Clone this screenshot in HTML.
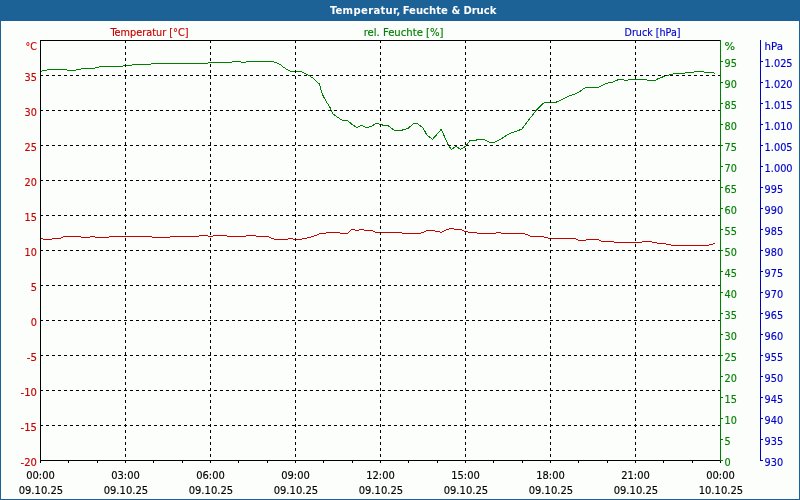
<!DOCTYPE html>
<html lang="de"><head><meta charset="utf-8"><title>Temperatur, Feuchte &amp; Druck</title>
<style>
html,body{margin:0;padding:0;background:#fcfefc;overflow:hidden}
svg{display:block}
.tx{will-change:opacity}
text{font-family:"DejaVu Sans Condensed","Liberation Sans",sans-serif;font-size:10.5px}
.t{font-family:"DejaVu Sans Condensed","Liberation Sans",sans-serif;font-weight:bold;font-size:11.2px;fill:#fff}
.r{fill:#c80000;stroke:#c80000}.g{fill:#008000;stroke:#008000}.b{fill:#0000c8;stroke:#0000c8}.k{fill:#000;stroke:#000}
text{stroke-width:0.15px;stroke-linejoin:round}
.e{text-anchor:end}.m{text-anchor:middle}
</style></head><body>
<svg width="800" height="500" viewBox="0 0 800 500">
<rect x="0" y="0" width="800" height="500" fill="#1d6296"/>
<rect x="1" y="21" width="798" height="478" fill="#fcfefc"/>
<path d="M40 71.5H42M42 70.5H47M47 69.5H67M67 70.5H76M76 69.5H81M81 68.5H95M95 67.5H99M99 66.5H123M123 65.5H132M132 64.5H151M151 63.5H208M208 62.5H232M232 61.5H241M241 62.5H246M246 61.5H274M274 62.5H277M277 63.5H279M279 64.5H281M281 65.5H282M282 66.5H283M283 67.5H285M285 68.5H286M286 69.5H288M288 70.5H290M290 71.5H302M302 72.5H304M304 73.5H306M306 74.5H308M308 75.5H310M310 76.5H311M311 77.5H313M313 78.5H314M314 79.5H315M315 80.5H316M316 81.5H317M317 82.5H318M318 83.5H319" fill="none" stroke="#008000" stroke-width="1" shape-rendering="crispEdges"/>
<polyline points="319.0,83.5 319.4,84.0 320.6,88.7 323.0,95.6 326.9,102.5 330.0,107.5 331.2,110.6 333.0,114.0 338.7,118.0 342.5,120.4 347.5,120.4 351.9,124.4 356.9,127.5 361.2,125.2 366.2,127.5 371.2,126.5 376.2,123.4 380.6,124.4 383.7,125.4 388.0,125.6 394.4,130.4 401.2,130.4 408.0,128.4 413.7,123.4 417.5,123.7 423.0,128.0 426.9,135.0 432.5,139.4 441.2,129.4 448.0,144.4 451.2,149.4 456.2,146.5 460.6,149.4 465.6,146.3 470.0,140.4 475.6,140.4 478.0,139.4 483.7,139.4 490.0,142.5 494.4,142.5 502.5,138.0 506.9,135.0 511.9,132.5 516.2,131.5 521.9,129.0 528.7,120.0 536.2,110.4 543.0,103.4 546.2,102.4 555.6,102.4 562.5,99.4 568.7,96.2 578.7,92.5 583.7,88.4 586.9,87.4 598.0,87.4 606.2,83.4 612.5,82.2 616.2,80.4 619.4,79.4 623.0,79.4 625.0,80.4 627.5,80.4 628.7,79.4 646.2,79.4 647.5,80.4 655.6,80.4 657.5,79.0 666.2,75.6 675.6,73.4 684.4,73.4 685.6,72.4 693.7,72.4 695.0,71.4 703.0,71.4 704.4,72.4 713.0,72.4 715.0,73.4" fill="none" stroke="#008000" stroke-width="1" shape-rendering="crispEdges"/>
<path d="M40 238.5H43M43 239.5H52M52 238.5H61M61 237.5H63M63 236.5H81M81 237.5H90M90 236.5H95M95 237.5H109M109 236.5H152M152 237.5H170M170 236.5H199M199 235.5H208M208 236.5H213M213 235.5H227M227 236.5H246M246 235.5H256M256 236.5H269M269 237.5H271M271 238.5H274M274 239.5H288M288 238.5H293M293 239.5H302M302 238.5H307M307 237.5H311M311 236.5H314M314 235.5H317M317 234.5H319M319 233.5H326M326 232.5H340M340 233.5H348M348 232.5H349M349 231.5H350M350 230.5H351M351 229.5H355M355 230.5H359M359 229.5H364M364 230.5H373M373 231.5H375M375 232.5H402M402 233.5H421M421 232.5H424M424 231.5H426M426 230.5H435M435 231.5H440M440 232.5H442M442 231.5H444M444 230.5H446M446 229.5H449M449 228.5H454M454 229.5H462M462 230.5H464M464 231.5H468M468 232.5H477M477 233.5H496M496 232.5H501M501 233.5H525M525 234.5H528M528 235.5H530M530 236.5H544M544 237.5H548M548 238.5H576M576 239.5H578M578 240.5H586M586 239.5H599M599 240.5H601M601 241.5H614M614 242.5H642M642 241.5H652M652 242.5H657M657 243.5H666M666 244.5H671M671 245.5H709M709 244.5H713M713 243.5H715" fill="none" stroke="#c80000" stroke-width="1" shape-rendering="crispEdges"/>
<path d="M40 425.5H720M40 390.5H720M40 355.5H720M40 320.5H720M40 285.5H720M40 250.5H720M40 215.5H720M40 180.5H720M40 145.5H720M40 110.5H720M40 75.5H720M125.5 40V460M210.5 40V460M295.5 40V460M380.5 40V460M465.5 40V460M550.5 40V460M635.5 40V460" stroke="#000" stroke-width="1" stroke-dasharray="3 3" fill="none" shape-rendering="crispEdges"/>
<path d="M40.5 40V463M40 40.5H720M40 460.5H720M68.5 461V463M97.5 461V463M125.5 461V463M153.5 461V463M182.5 461V463M210.5 461V463M238.5 461V463M267.5 461V463M295.5 461V463M323.5 461V463M352.5 461V463M380.5 461V463M408.5 461V463M437.5 461V463M465.5 461V463M493.5 461V463M522.5 461V463M550.5 461V463M578.5 461V463M607.5 461V463M635.5 461V463M663.5 461V463M692.5 461V463M720.5 461V463" stroke="#000" stroke-width="1" fill="none" shape-rendering="crispEdges"/>
<path d="M720.5 40V461M721 460.5H723M721 439.5H723M721 418.5H723M721 397.5H723M721 376.5H723M721 355.5H723M721 334.5H723M721 313.5H723M721 292.5H723M721 271.5H723M721 250.5H723M721 229.5H723M721 208.5H723M721 187.5H723M721 166.5H723M721 145.5H723M721 124.5H723M721 103.5H723M721 82.5H723M721 61.5H723" stroke="#008000" stroke-width="1" fill="none" shape-rendering="crispEdges"/>
<path d="M760.5 40V461M761 460.5H763M761 439.5H763M761 418.5H763M761 397.5H763M761 376.5H763M761 355.5H763M761 334.5H763M761 313.5H763M761 292.5H763M761 271.5H763M761 250.5H763M761 229.5H763M761 208.5H763M761 187.5H763M761 166.5H763M761 145.5H763M761 124.5H763M761 103.5H763M761 82.5H763M761 61.5H763" stroke="#0000c8" stroke-width="1" fill="none" shape-rendering="crispEdges"/>
<g class="tx">
<text class="t" x="329.9 335.5 342.6 353.5 361.0 368.2 373.4 380.4 385.5 392.9 396.4 400.2 402.7 409.1 416.0 423.1 429.1 436.2 441.1 447.9 451.5 460.3 463.4 471.7 476.6 483.8 489.7" y="14">Temperatur, Feuchte &amp; Druck</text>
<g class="r e">
<text x="36.9" y="50">°C</text>
<text x="36.9" y="466" textLength="16.3" lengthAdjust="spacingAndGlyphs">-20</text>
<text x="36.9" y="431" textLength="16.3" lengthAdjust="spacingAndGlyphs">-15</text>
<text x="36.9" y="396" textLength="16.3" lengthAdjust="spacingAndGlyphs">-10</text>
<text x="36.9" y="361" textLength="10.2" lengthAdjust="spacingAndGlyphs">-5</text>
<text x="36.9" y="326" textLength="6.2" lengthAdjust="spacingAndGlyphs">0</text>
<text x="36.9" y="291" textLength="6.2" lengthAdjust="spacingAndGlyphs">5</text>
<text x="36.9" y="256" textLength="12.3" lengthAdjust="spacingAndGlyphs">10</text>
<text x="36.9" y="221" textLength="12.3" lengthAdjust="spacingAndGlyphs">15</text>
<text x="36.9" y="186" textLength="12.3" lengthAdjust="spacingAndGlyphs">20</text>
<text x="36.9" y="151" textLength="12.3" lengthAdjust="spacingAndGlyphs">25</text>
<text x="36.9" y="116" textLength="12.3" lengthAdjust="spacingAndGlyphs">30</text>
<text x="36.9" y="81" textLength="12.3" lengthAdjust="spacingAndGlyphs">35</text>
</g>
<g class="g">
<text x="724.6" y="50" textLength="10.6" lengthAdjust="spacingAndGlyphs">%</text>
<text x="724.6" y="466" textLength="6.2" lengthAdjust="spacingAndGlyphs">0</text>
<text x="724.6" y="445" textLength="6.2" lengthAdjust="spacingAndGlyphs">5</text>
<text x="724.6" y="424" textLength="12.3" lengthAdjust="spacingAndGlyphs">10</text>
<text x="724.6" y="403" textLength="12.3" lengthAdjust="spacingAndGlyphs">15</text>
<text x="724.6" y="382" textLength="12.3" lengthAdjust="spacingAndGlyphs">20</text>
<text x="724.6" y="361" textLength="12.3" lengthAdjust="spacingAndGlyphs">25</text>
<text x="724.6" y="340" textLength="12.3" lengthAdjust="spacingAndGlyphs">30</text>
<text x="724.6" y="319" textLength="12.3" lengthAdjust="spacingAndGlyphs">35</text>
<text x="724.6" y="298" textLength="12.3" lengthAdjust="spacingAndGlyphs">40</text>
<text x="724.6" y="277" textLength="12.3" lengthAdjust="spacingAndGlyphs">45</text>
<text x="724.6" y="256" textLength="12.3" lengthAdjust="spacingAndGlyphs">50</text>
<text x="724.6" y="235" textLength="12.3" lengthAdjust="spacingAndGlyphs">55</text>
<text x="724.6" y="214" textLength="12.3" lengthAdjust="spacingAndGlyphs">60</text>
<text x="724.6" y="193" textLength="12.3" lengthAdjust="spacingAndGlyphs">65</text>
<text x="724.6" y="172" textLength="12.3" lengthAdjust="spacingAndGlyphs">70</text>
<text x="724.6" y="151" textLength="12.3" lengthAdjust="spacingAndGlyphs">75</text>
<text x="724.6" y="130" textLength="12.3" lengthAdjust="spacingAndGlyphs">80</text>
<text x="724.6" y="109" textLength="12.3" lengthAdjust="spacingAndGlyphs">85</text>
<text x="724.6" y="88" textLength="12.3" lengthAdjust="spacingAndGlyphs">90</text>
<text x="724.6" y="67" textLength="12.3" lengthAdjust="spacingAndGlyphs">95</text>
</g>
<g class="b">
<text x="764.6" y="50" textLength="18.4" lengthAdjust="spacingAndGlyphs">hPa</text>
<text x="764.6" y="466" textLength="18.5" lengthAdjust="spacingAndGlyphs">930</text>
<text x="764.6" y="445" textLength="18.5" lengthAdjust="spacingAndGlyphs">935</text>
<text x="764.6" y="424" textLength="18.5" lengthAdjust="spacingAndGlyphs">940</text>
<text x="764.6" y="403" textLength="18.5" lengthAdjust="spacingAndGlyphs">945</text>
<text x="764.6" y="382" textLength="18.5" lengthAdjust="spacingAndGlyphs">950</text>
<text x="764.6" y="361" textLength="18.5" lengthAdjust="spacingAndGlyphs">955</text>
<text x="764.6" y="340" textLength="18.5" lengthAdjust="spacingAndGlyphs">960</text>
<text x="764.6" y="319" textLength="18.5" lengthAdjust="spacingAndGlyphs">965</text>
<text x="764.6" y="298" textLength="18.5" lengthAdjust="spacingAndGlyphs">970</text>
<text x="764.6" y="277" textLength="18.5" lengthAdjust="spacingAndGlyphs">975</text>
<text x="764.6" y="256" textLength="18.5" lengthAdjust="spacingAndGlyphs">980</text>
<text x="764.6" y="235" textLength="18.5" lengthAdjust="spacingAndGlyphs">985</text>
<text x="764.6" y="214" textLength="18.5" lengthAdjust="spacingAndGlyphs">990</text>
<text x="764.6" y="193" textLength="18.5" lengthAdjust="spacingAndGlyphs">995</text>
<text x="764.6" y="172" textLength="28.0" lengthAdjust="spacingAndGlyphs">1.000</text>
<text x="764.6" y="151" textLength="28.0" lengthAdjust="spacingAndGlyphs">1.005</text>
<text x="764.6" y="130" textLength="28.0" lengthAdjust="spacingAndGlyphs">1.010</text>
<text x="764.6" y="109" textLength="28.0" lengthAdjust="spacingAndGlyphs">1.015</text>
<text x="764.6" y="88" textLength="28.0" lengthAdjust="spacingAndGlyphs">1.020</text>
<text x="764.6" y="67" textLength="28.0" lengthAdjust="spacingAndGlyphs">1.025</text>
</g>
<g class="k m">
<text x="40.5" y="479" textLength="28.6" lengthAdjust="spacingAndGlyphs">00:00</text><text x="40.9" y="494" textLength="44.4" lengthAdjust="spacingAndGlyphs">09.10.25</text>
<text x="125.5" y="479" textLength="28.6" lengthAdjust="spacingAndGlyphs">03:00</text><text x="125.9" y="494" textLength="44.4" lengthAdjust="spacingAndGlyphs">09.10.25</text>
<text x="210.5" y="479" textLength="28.6" lengthAdjust="spacingAndGlyphs">06:00</text><text x="210.9" y="494" textLength="44.4" lengthAdjust="spacingAndGlyphs">09.10.25</text>
<text x="295.5" y="479" textLength="28.6" lengthAdjust="spacingAndGlyphs">09:00</text><text x="295.9" y="494" textLength="44.4" lengthAdjust="spacingAndGlyphs">09.10.25</text>
<text x="380.5" y="479" textLength="28.6" lengthAdjust="spacingAndGlyphs">12:00</text><text x="380.9" y="494" textLength="44.4" lengthAdjust="spacingAndGlyphs">09.10.25</text>
<text x="465.5" y="479" textLength="28.6" lengthAdjust="spacingAndGlyphs">15:00</text><text x="465.9" y="494" textLength="44.4" lengthAdjust="spacingAndGlyphs">09.10.25</text>
<text x="550.5" y="479" textLength="28.6" lengthAdjust="spacingAndGlyphs">18:00</text><text x="550.9" y="494" textLength="44.4" lengthAdjust="spacingAndGlyphs">09.10.25</text>
<text x="635.5" y="479" textLength="28.6" lengthAdjust="spacingAndGlyphs">21:00</text><text x="635.9" y="494" textLength="44.4" lengthAdjust="spacingAndGlyphs">09.10.25</text>
<text x="720.5" y="479" textLength="28.6" lengthAdjust="spacingAndGlyphs">00:00</text><text x="720.9" y="494" textLength="44.4" lengthAdjust="spacingAndGlyphs">10.10.25</text>
</g>
<text class="r" x="110.5" y="36" textLength="78" lengthAdjust="spacingAndGlyphs">Temperatur [°C]</text>
<text class="g" x="363.7" y="36" textLength="79.8" lengthAdjust="spacingAndGlyphs">rel. Feuchte [%]</text>
<text class="b" x="624.5" y="36" textLength="56" lengthAdjust="spacingAndGlyphs">Druck [hPa]</text>
</g>
</svg></body></html>
